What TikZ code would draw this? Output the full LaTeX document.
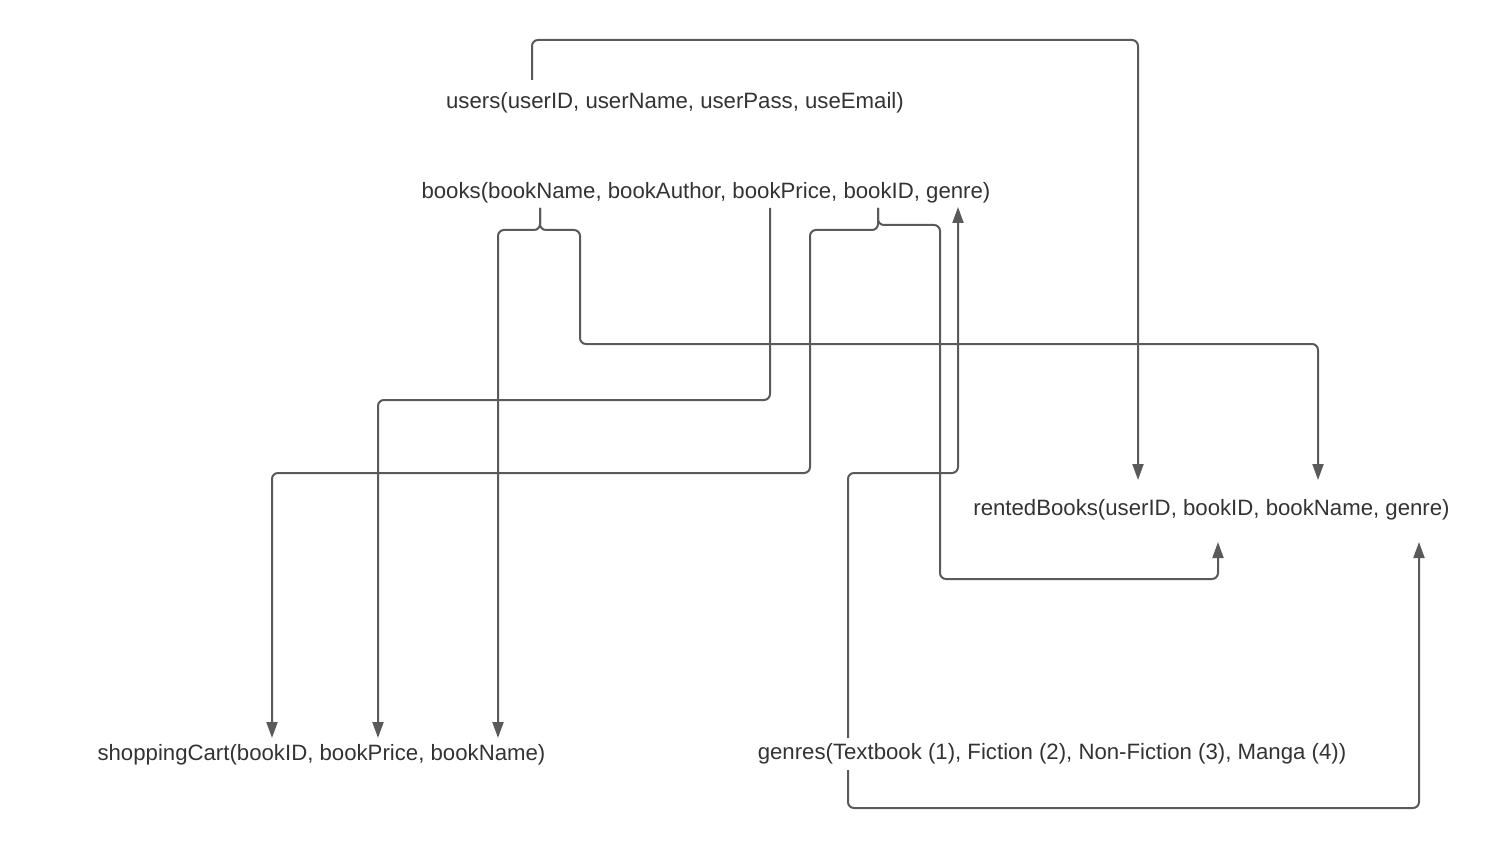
\documentclass[tikz,border=0pt]{standalone}
\usepackage{fontspec}
\setmainfont{Liberation Sans}
\usetikzlibrary{arrows.meta}
\definecolor{linec}{HTML}{5A5A5A}
\definecolor{textc}{HTML}{333333}
\tikzset{
  lbl/.style={text=textc, font=\fontsize{22.2}{26}\selectfont, inner sep=0pt, anchor=center},
  conn/.style={draw=linec, line width=2pt, rounded corners=6pt},
  arr/.style={conn, -{Triangle[length=16pt,width=11pt]}}
}
\begin{document}
\begin{tikzpicture}[x=1pt,y=1pt]
\useasboundingbox (0,0) rectangle (1504,-850);
\node[lbl] (users) at (675,-103) {users(userID, userName, userPass, useEmail)};
\node[lbl] (books) at (706,-193) {books(bookName, bookAuthor, bookPrice, bookID, genre)};
\node[lbl] (rented) at (1211.5,-510) {rentedBooks(userID, bookID, bookName, genre)};
\node[lbl] (cart) at (321.5,-755) {shoppingCart(bookID, bookPrice, bookName)};
\node[lbl] (genres) at (1052,-754) {genres(Textbook (1), Fiction (2), Non-Fiction (3), Manga (4))};
% anchor points
\coordinate (uOut) at (532,-80);
\coordinate (rUser) at (1138,-480);
\coordinate (bName) at (540,-208);
\coordinate (bPrice) at (770,-208);
\coordinate (bID) at (878,-208);
\coordinate (bGenre) at (958,-207);
\coordinate (cID) at (272,-738);
\coordinate (cPrice) at (378,-738);
\coordinate (cName) at (498,-738);
\coordinate (rName) at (1318,-480);
\coordinate (rID) at (1218,-542);
\coordinate (rGenre) at (1419,-542);
\coordinate (gTop) at (848,-738);
\coordinate (gBot) at (848,-770);
% connectors
\draw[arr] (uOut) -- (532,-40) -- (1138,-40) -- (rUser);
\draw[arr] (bName) -- (540,-230) -- (498,-230) -- (cName);
\draw[arr] (bName) -- (540,-230) -- (580,-230) -- (580,-344) -- (1318,-344) -- (rName);
\draw[arr] (bPrice) -- (770,-400) -- (378,-400) -- (cPrice);
\draw[arr] (bID) -- (878,-230) -- (810,-230) -- (810,-473) -- (272,-473) -- (cID);
\draw[arr] (bID) -- (878,-225) -- (940,-225) -- (940,-579) -- (1218,-579) -- (rID);
\draw[arr] (gTop) -- (848,-473) -- (958,-473) -- (bGenre);
\draw[arr] (gBot) -- (848,-808) -- (1419,-808) -- (rGenre);
\end{tikzpicture}
\end{document}
